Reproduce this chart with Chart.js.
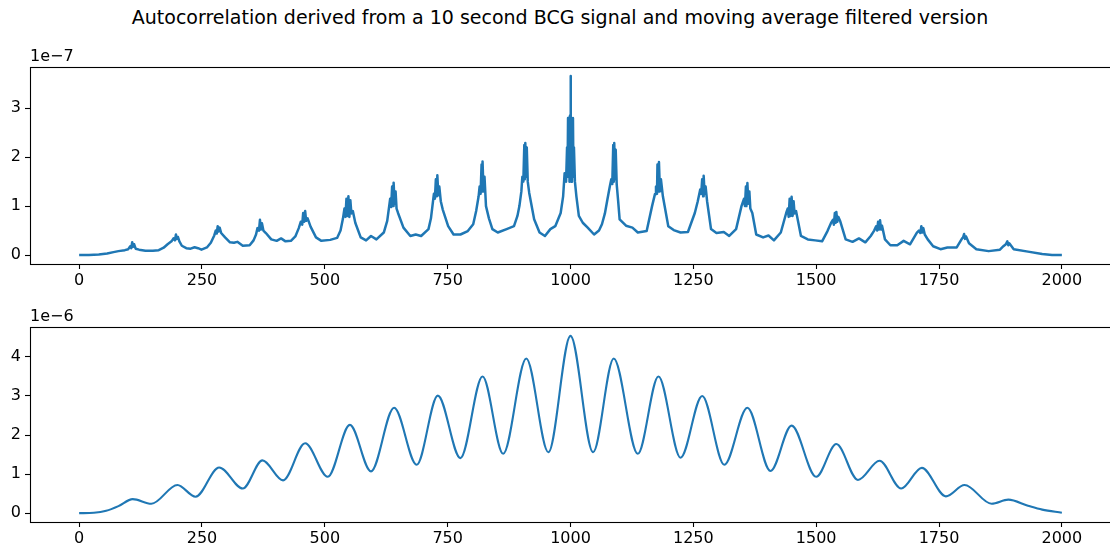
<!DOCTYPE html>
<html>
<head>
<meta charset="utf-8">
<script src="https://cdn.jsdelivr.net/npm/chart.js@4.4.1/dist/chart.umd.min.js"></script>
<style>
  html, body { margin: 0; padding: 0; background: #fff; overflow: hidden; }
  body { width: 1110px; height: 554px; position: relative; font-family: "DejaVu Sans", sans-serif; }
  #title { position: absolute; left: 5px; width: 1110px; top: 6px; text-align: center; font-size: 19px; color: #000; }
  canvas { position: absolute; left: 0; }
</style>
</head>
<body>
<div id="title">Autocorrelation derived from a 10 second BCG signal and moving average filtered version</div>
<canvas id="topChart" width="1120" height="250" style="top:40px"></canvas>
<canvas id="bottomChart" width="1120" height="248" style="top:300px"></canvas>
<script>
// lag axis shared by both panels
const xTicks = [0, 250, 500, 750, 1000, 1250, 1500, 1750, 2000];
const topYTicks = [0, 1, 2, 3];
const bottomYTicks = [0, 1, 2, 3, 4];
const topOffsetLabel = "1e\u22127";
const bottomOffsetLabel = "1e\u22126";

// raw autocorrelation, [lag, value / 1e-7]
const topSeries = [
  [0,0],[20,0],[40,0.01],[57,0.03],[70,0.06],[80,0.08],[93,0.1],
  [100,0.12],[104,0.18],[106,0.14],[108,0.26],[110,0.17],[112,0.22],[115,0.13],
  [122,0.11],[135,0.09],[150,0.09],[162,0.1],[172,0.15],[180,0.22],[188,0.28],
  [192,0.34],[195,0.3],[197,0.42],[199,0.33],[201,0.37],[204,0.28],
  [209,0.19],[218,0.14],[227,0.13],[235,0.16],[242,0.14],[249,0.11],[260,0.155],[268,0.25],[275,0.4],
  [278,0.5],[280,0.44],[282,0.59],[284,0.48],[286,0.56],[289,0.45],
  [297,0.36],[307,0.26],[315,0.25],[322,0.27],[333,0.19],[347,0.2],[355,0.3],[360,0.42],
  [363,0.55],[366,0.5],[368,0.72],[370,0.52],[372,0.65],[375,0.5],
  [380,0.45],[391,0.32],[402,0.29],[411,0.34],[420,0.28],[431,0.29],[440,0.38],[447,0.55],
  [451,0.68],[454,0.62],[456,0.86],[458,0.68],[460,0.9],[462,0.7],[465,0.75],
  [471,0.58],[482,0.36],[493,0.29],[511,0.31],[525,0.35],[532,0.5],[537,0.75],
  [540,0.95],[542,0.78],[544,1.15],[546,0.8],[548,1.2],[550,0.78],[552,1.12],[554,0.85],[557,0.9],
  [562,0.66],[573,0.36],[584,0.3],[594,0.39],[605,0.32],[620,0.46],[627,0.7],[631,1.0],
  [633,1.15],[635,0.98],[637,1.4],[639,1.0],[640,1.48],[642,1.05],[644,1.3],[646,0.95],
  [649,0.86],[660,0.56],[674,0.39],[685,0.42],[696,0.39],[711,0.53],[716,0.75],[719,1.0],
  [722,1.25],[724,1.15],[726,1.55],[728,1.2],[729,1.63],[731,1.22],[733,1.4],[736,1.1],
  [740,0.93],[751,0.59],[762,0.42],[776,0.42],[791,0.49],[802,0.63],[808,0.9],[813,1.2],
  [815,1.4],[817,1.25],[819,1.85],[820,1.3],[821,1.91],[823,1.3],[825,1.6],[828,1.0],
  [834,0.75],[841,0.53],[852,0.46],[870,0.53],[885,0.59],[892,0.8],[896,1.0],[900,1.3],
  [902,1.6],[904,1.5],[906,2.25],[907,1.55],[908,2.29],[910,1.6],[911,2.2],[913,1.5],[916,1.27],
  [926,0.73],[937,0.46],[948,0.39],[959,0.53],[969,0.59],[980,0.86],[985,1.2],[988,1.67],
  [991,1.5],[993,2.2],[994,1.6],[995,2.8],[996,1.8],[997,2.8],[998,1.5],[999,2.85],[1000,3.66],
  [1001,2.85],[1002,1.5],[1003,2.8],[1004,1.8],[1005,2.8],[1006,1.6],[1007,2.2],[1009,1.5],
  [1012,1.2],[1017,0.8],[1025,0.66],[1035,0.56],[1048,0.42],[1058,0.5],[1064,0.63],[1070,0.85],[1075,1.13],[1080,1.4],
  [1083,1.55],[1085,1.45],[1087,2.25],[1088,1.5],[1089,2.29],[1091,1.55],[1092,2.15],[1094,1.45],[1097,1.1],
  [1100,0.73],[1113,0.6],[1126,0.56],[1137,0.46],[1155,0.49],[1166,1.0],[1172,1.25],
  [1174,1.4],[1176,1.25],[1177,1.85],[1179,1.3],[1180,1.9],[1182,1.3],[1184,1.55],[1188,1.2],
  [1199,0.59],[1210,0.51],[1224,0.46],[1239,0.47],[1253,0.86],[1259,1.1],[1264,1.34],
  [1266,1.25],[1268,1.55],[1270,1.2],[1271,1.62],[1273,1.25],[1275,1.4],[1278,1.1],
  [1286,0.53],[1297,0.45],[1312,0.47],[1323,0.39],[1337,0.53],[1348,1.0],[1353,1.15],
  [1355,1.0],[1357,1.4],[1358,1.0],[1360,1.47],[1362,1.05],[1364,1.3],[1366,0.95],
  [1370,0.86],[1378,0.42],[1392,0.36],[1403,0.4],[1414,0.3],[1428,0.46],[1439,0.86],
  [1442,0.95],[1444,0.78],[1446,1.15],[1448,0.8],[1450,1.19],[1452,0.8],[1454,1.1],[1456,0.85],[1459,0.9],
  [1461,0.8],[1469,0.39],[1483,0.32],[1498,0.3],[1512,0.28],[1523,0.49],[1530,0.65],
  [1534,0.72],[1536,0.62],[1538,0.86],[1540,0.66],[1541,0.88],[1543,0.68],[1545,0.78],
  [1549,0.69],[1560,0.32],[1574,0.27],[1587,0.34],[1600,0.26],[1611,0.39],[1618,0.5],
  [1622,0.59],[1624,0.5],[1626,0.68],[1628,0.52],[1630,0.71],[1632,0.52],[1634,0.6],
  [1640,0.32],[1651,0.2],[1665,0.2],[1678,0.29],[1691,0.22],[1705,0.46],
  [1709,0.5],[1712,0.45],[1714,0.59],[1716,0.46],[1718,0.55],[1721,0.42],
  [1727,0.32],[1738,0.18],[1753,0.12],[1767,0.155],[1786,0.155],[1797,0.34],
  [1799,0.36],[1801,0.43],[1803,0.33],[1805,0.38],
  [1811,0.24],[1826,0.12],[1851,0.08],[1874,0.11],[1881,0.18],
  [1886,0.22],[1889,0.28],[1891,0.2],[1893,0.24],
  [1902,0.12],[1931,0.07],[1960,0.02],[1980,0],[2000,0]
];

// moving average filtered version, [lag, value / 1e-6] at turning points
const bottomSeries = [
  [0,0],[30,0.01],[55,0.06],[80,0.18],[109,0.36],[147,0.24],[200,0.72],[237,0.42],
  [285,1.17],[333,0.63],[373,1.35],[415,0.84],[460,1.79],[506,0.93],[551,2.26],[594,1.07],
  [641,2.7],[687,1.24],[730,3.01],[776,1.41],[821,3.5],[863,1.52],[910,3.96],[955,1.56],
  [1000,4.54],[1046,1.56],[1088,3.96],[1137,1.52],[1179,3.5],[1224,1.42],[1268,3.0],[1313,1.24],
  [1360,2.7],[1407,1.08],[1450,2.24],[1500,0.93],[1541,1.77],[1585,0.85],[1629,1.34],[1673,0.63],
  [1715,1.16],[1764,0.43],[1802,0.72],[1857,0.24],[1891,0.345],[1931,0.19],[1960,0.09],[2000,0.01]
];

const FONT = "DejaVu Sans";
const TICK_SIZE = 16;

const frame = {
  id: "frame",
  afterDraw(chart, args, opts) {
    const { ctx, chartArea: a } = chart;
    ctx.save();
    ctx.strokeStyle = "#000";
    ctx.lineWidth = 1.1;
    ctx.strokeRect(Math.round(a.left) + 0.5, Math.round(a.top) + 0.5,
      Math.round(a.right - a.left), Math.round(a.bottom - a.top));
    ctx.fillStyle = "#000";
    ctx.font = TICK_SIZE + "px '" + FONT + "'";
    ctx.textAlign = "left";
    ctx.textBaseline = "bottom";
    ctx.fillText(opts.offset, a.left, a.top - 2);
    ctx.restore();
  }
};

function makeChart(id, series, yTicks, yMin, yMax, offset, smooth) {
  return new Chart(document.getElementById(id), {
    type: "line",
    data: {
      datasets: [{
        data: series.map(p => ({ x: p[0], y: p[1] })),
        borderColor: "#1f77b4",
        borderWidth: smooth ? 2.1 : 2.5,
        borderJoinStyle: "round",
        pointRadius: 0,
        cubicInterpolationMode: smooth ? "monotone" : "default",
        tension: 0
      }]
    },
    options: {
      responsive: false,
      animation: false,
      devicePixelRatio: 1,
      layout: { padding: { top: 27, right: 9, left: 0, bottom: 0 } },
      plugins: { legend: false, tooltip: { enabled: false }, frame: { offset } },
      scales: {
        x: {
          type: "linear",
          min: -100,
          max: 2100,
          afterBuildTicks: s => { s.ticks = xTicks.map(v => ({ value: v })); },
          afterFit: s => { s.height = 26; },
          border: { display: false },
          grid: { drawOnChartArea: false, drawTicks: true, tickLength: 5, tickColor: "#000", tickWidth: 1.1 },
          ticks: { color: "#000", font: { family: FONT, size: TICK_SIZE }, padding: 2,
                   maxRotation: 0, autoSkip: false, callback: v => String(v) }
        },
        y: {
          type: "linear",
          min: yMin,
          max: yMax,
          afterBuildTicks: s => { s.ticks = yTicks.map(v => ({ value: v })); },
          afterFit: s => { s.width = 30; },
          border: { display: false },
          grid: { drawOnChartArea: false, drawTicks: true, tickLength: 5, tickColor: "#000", tickWidth: 1.1 },
          ticks: { color: "#000", font: { family: FONT, size: TICK_SIZE }, padding: 4,
                   callback: v => String(v) }
        }
      }
    },
    plugins: [frame]
  });
}

makeChart("topChart", topSeries, topYTicks, -0.183, 3.843, topOffsetLabel, false);
makeChart("bottomChart", bottomSeries, bottomYTicks, -0.227, 4.767, bottomOffsetLabel, true);
</script>
</body>
</html>
